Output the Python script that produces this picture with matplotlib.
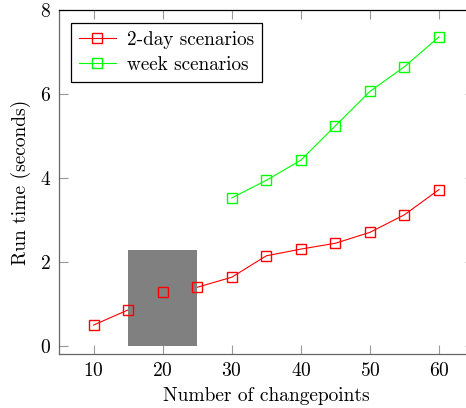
import matplotlib
matplotlib.use('Agg')
import matplotlib.pyplot as plt
from matplotlib.patches import Rectangle

# changepoints vs run time
changepoints = [10, 15, 20, 25, 30, 35, 40, 45, 50, 55, 60]
two_day = [0.50, 0.86, 1.28, 1.40, 1.64, 2.15, 2.31, 2.45, 2.71, 3.13, 3.73]
week_x = [30, 35, 40, 45, 50, 55, 60]
week = [3.53, 3.95, 4.43, 5.25, 6.07, 6.66, 7.37]
# shaded box (x from, x to, y top)
box_x = [15, 25]
box_top = 2.3

plt.rcParams['font.family'] = ['cmr10', 'DejaVu Serif']
plt.rcParams['mathtext.fontset'] = 'cm'
plt.rcParams['axes.formatter.use_mathtext'] = True

fig = plt.figure(figsize=(4.66, 4.08), dpi=100)
ax = fig.add_axes([0.1266, 0.1324, 0.8897, 0.842])

ax.plot(changepoints, two_day, color='#ff0000', lw=0.8, zorder=1)
ax.plot(week_x, week, color='#00ff00', lw=0.8, zorder=1)
ax.add_patch(Rectangle((box_x[0], 0), box_x[1] - box_x[0], box_top,
                       facecolor='#808080', edgecolor='none', zorder=2))
ax.plot(changepoints, two_day, ls='none', marker='s', ms=7, mfc='none',
        mec='#ff0000', mew=1.0, zorder=3)
ax.plot(week_x, week, ls='none', marker='s', ms=7, mfc='none',
        mec='#00ff00', mew=1.0, zorder=3)

# legend proxies
h1, = ax.plot([], [], color='#ff0000', lw=0.8, marker='s', ms=7, mfc='none', mew=1.0)
h2, = ax.plot([], [], color='#00ff00', lw=0.8, marker='s', ms=7, mfc='none', mew=1.0)
leg = ax.legend([h1, h2], ['2-day scenarios', 'week scenarios'], loc='upper left',
                fontsize=13.8, fancybox=False, edgecolor='black', framealpha=1,
                borderaxespad=0.65, handlelength=1.9, handletextpad=0.6,
                borderpad=0.4, labelspacing=0.4)
leg.get_frame().set_linewidth(0.9)

ax.set_xlim(5, 65)
ax.set_ylim(-0.19, 8)
ax.set_xticks([10, 20, 30, 40, 50, 60])
ax.set_yticks([0, 2, 4, 6, 8])
ax.tick_params(direction='in', length=6.5, width=0.8, color='0.6',
               top=True, right=True, labelsize=14, pad=6)
for s in ['left', 'bottom']:
    ax.spines[s].set_color('0.4')
ax.spines['top'].set_color('black')
for s in ax.spines.values():
    s.set_linewidth(0.9)

ax.set_xlabel('Number of changepoints', fontsize=14, labelpad=5)
ax.set_ylabel('Run time (seconds)', fontsize=14, labelpad=6)

fig.savefig('out.png', dpi=100)
